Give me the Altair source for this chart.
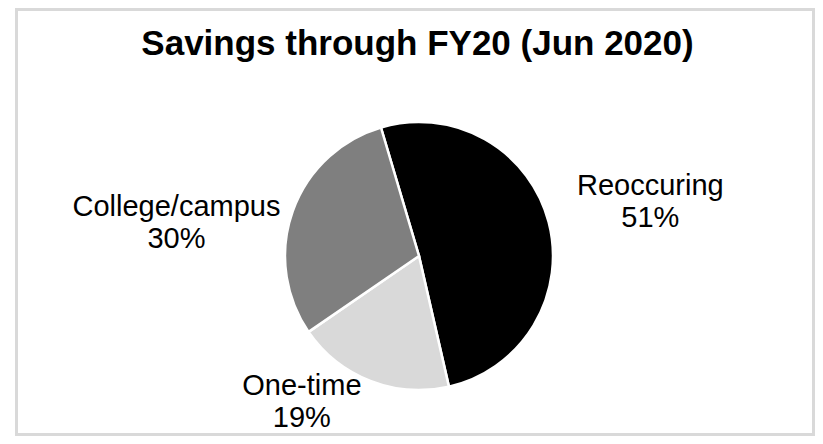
import math
import altair as alt
import pandas as pd

# ---- data ----
categories = ["Reoccuring", "One-time", "College/campus"]
values = [51, 19, 30]
percent_labels = ["51%", "19%", "30%"]
slice_colors = ["#000000", "#d9d9d9", "#7f7f7f"]
chart_title = "Savings through FY20 (Jun 2020)"

df = pd.DataFrame({
    "category": categories,
    "value": values,
    "pct": percent_labels,
    "order": list(range(len(categories))),
})
df["label"] = df["category"] + "\n" + df["pct"]
title_df = pd.DataFrame({"title": [chart_title]})

# ---- layout constants (view coordinates, view = the grey frame) ----
START = math.radians(-16.5)
theta_scale = alt.Scale(domain=[0, 100], range=[START, START + 2 * math.pi])
CX, CY = 402.5, 246.5
R = 134
FONT = "Liberation Sans"

pie = alt.Chart(df).mark_arc(outerRadius=R, stroke="white", strokeWidth=2.5).encode(
    theta=alt.Theta("value:Q", stack=True, scale=theta_scale),
    order=alt.Order("order:Q"),
    color=alt.Color("category:N", scale=alt.Scale(domain=categories, range=slice_colors), legend=None),
    x=alt.value(CX),
    y=alt.value(CY),
)

label_place = {
    "Reoccuring": (235, 4, -1),
    "One-time": (160, -59, -10),
    "College/campus": (235, -21, 38),
}


def label_layer(cat, r, dx, dy):
    return (
        alt.Chart(df)
        .transform_stack(stack="value", groupby=[], as_=["v0", "v1"],
                         sort=[alt.SortField("order", order="ascending")])
        .transform_calculate(mid="(datum.v0 + datum.v1) / 2")
        .transform_filter(alt.datum.category == cat)
        .mark_text(radius=r, dx=dx, dy=dy, align="center", baseline="alphabetic",
                   lineBreak="\n", lineHeight=32, fontSize=29, font=FONT, color="#000000")
        .encode(
            theta=alt.Theta("mid:Q", stack=False, scale=theta_scale),
            text="label:N",
            x=alt.value(CX),
            y=alt.value(CY),
        )
    )


title_mark = alt.Chart(title_df).mark_text(
    align="center", baseline="alphabetic", fontSize=35, fontWeight="bold",
    font=FONT, color="#000000",
).encode(text="title:N", x=alt.value(401), y=alt.value(45.5))

layers = [pie] + [label_layer(c, *label_place[c]) for c in categories] + [title_mark]

chart = alt.layer(*layers).properties(
    width=797,
    height=425,
    padding={"left": 8.5, "top": 1.5, "right": 1.5, "bottom": 1.5},
    autosize=alt.AutoSizeParams(type="none"),
).configure_view(stroke="#d9d9d9", strokeWidth=3)

chart.save("out.html", embed_options={"renderer": "svg", "actions": False})
